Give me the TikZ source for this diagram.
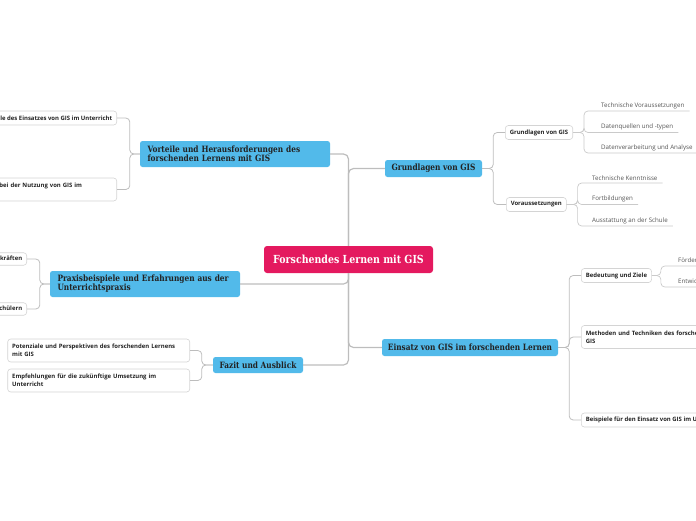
\documentclass[tikz,border=0pt]{standalone}
\usepackage{fontspec}
\setmainfont{Open Sans}
\newfontfamily\slab[FakeStretch=0.85]{DejaVu Serif}
\usetikzlibrary{positioning}
\definecolor{rootpink}{HTML}{E4195F}
\definecolor{topicblue}{HTML}{52BAEA}
\definecolor{wire}{HTML}{BDBDBD}
\definecolor{rim}{HTML}{D4D4D4}
\definecolor{ink}{HTML}{222222}
\definecolor{ink2}{HTML}{555555}

\begin{document}
\begin{tikzpicture}[x=1pt,y=-1pt,
  root/.style={fill=rootpink,text=white,rounded corners=3pt,font=\slab\bfseries\fontsize{11.1}{12}\selectfont,
    minimum width=169pt,minimum height=27pt,inner sep=0pt},
  topic/.style={fill=topicblue,text=ink,rounded corners=2.5pt,font=\slab\bfseries\fontsize{8.7}{9}\selectfont,inner sep=0pt},
  sub/.style={draw=rim,fill=white,rounded corners=3pt,line width=0.6pt,text=ink,
    font=\bfseries\fontsize{5.95}{8}\selectfont,inner xsep=4.5pt,inner ysep=0pt,minimum height=14pt},
  subwide/.style={sub,text width=173pt,align=left,minimum height=23pt,
    execute at begin node={\hyphenpenalty=10000\exhyphenpenalty=10000}},
  leaf/.style={text=ink2,font=\fontsize{6.2}{7}\selectfont,inner xsep=5pt,inner ysep=2pt,anchor=south west},
  trunk/.style={draw=wire,line width=1.2pt,rounded corners=5pt},
  twig/.style={draw=wire,line width=0.8pt,rounded corners=4pt},
  uline/.style={draw=wire!80,line width=0.7pt,rounded corners=4pt}]
\useasboundingbox (0,0) rectangle (696,520);
\clip (0,0) rectangle (696,520);
% centre and main topics
\node[root] (fl) at (348.5,259.5) {Forschendes Lernen mit GIS};
\node[topic,minimum width=190pt,minimum height=26pt,text width=175pt,align=left] (vh) at (235,154)
  {Vorteile und Herausforderungen des\\forschenden Lernens mit GIS};
\node[topic,minimum width=190pt,minimum height=26pt,text width=175pt,align=left] (px) at (145,284)
  {Praxisbeispiele und Erfahrungen aus der\\Unterrichtspraxis};
\node[topic,minimum width=90pt,minimum height=16pt] (fa) at (258,365) {Fazit und Ausblick};
\node[topic,minimum width=97pt,minimum height=17pt] (gl) at (433.5,168.5) {Grundlagen von GIS};
\node[topic,minimum width=176pt,minimum height=17pt] (ei) at (470,347.5) {Einsatz von GIS im forschenden Lernen};
\draw[trunk] (fl.north) |- (vh.east);
\draw[trunk] (fl.north) |- (gl.west);
\foreach \t in {px,fa} {\draw[trunk] (fl.south) |- (\t.east);}
\draw[trunk] (fl.south) |- (ei.west);
% Grundlagen von GIS
\node[sub,anchor=west] (gg) at (505,132.5) {Grundlagen von GIS};
\node[sub,anchor=west] (vs) at (506,204.5) {Voraussetzungen};
\foreach \n in {gg,vs} {\draw[twig] (gl.east) -- ++(11,0) |- (\n.west);}
\node[leaf] (tv) at (596,111) {Technische Voraussetzungen};
\node[leaf] (dt) at (596,132.5) {Datenquellen und -typen};
\node[leaf] (da) at (596,153) {Datenverarbeitung und Analyse};
\foreach \n in {tv,dt,da} {\draw[uline] (gg.east) -- ++(11,0) |- (\n.south east);}
\node[leaf] (tk) at (587,183) {Technische Kenntnisse};
\node[leaf] (fb) at (587,204.5) {Fortbildungen};
\node[leaf] (au) at (587,226) {Ausstattung an der Schule};
\foreach \n in {tk,fb,au} {\draw[uline] (vs.east) -- ++(11,0) |- (\n.south east);}
% Einsatz von GIS
\node[sub,anchor=west] (bz) at (581,275.5) {Bedeutung und Ziele};
\node[subwide,anchor=west] (mt) at (581,337) {Methoden und Techniken des forschenden Lernens mit GIS};
\node[sub,anchor=west] (bs) at (581,420) {Beispiele für den Einsatz von GIS im Unterricht};
\foreach \n in {bz,mt,bs} {\draw[twig] (ei.east) -- ++(11,0) |- (\n.west);}
\node[leaf] (fd) at (673,266) {Förderung des räumlichen Denkens};
\node[leaf] (ew) at (673,287) {Entwicklung von Forschungskompetenzen};
\foreach \n in {fd,ew} {\draw[uline] (bz.east) -- ++(9,0) |- (\n.south east);}
% Vorteile und Herausforderungen
\node[sub,anchor=east] (ve) at (117,118) {Vorteile des Einsatzes von GIS im Unterricht};
\node[subwide,anchor=east] (hn) at (117,189.5) {Herausforderungen bei der Nutzung von GIS im Unterricht};
\foreach \n in {ve,hn} {\draw[twig] (vh.west) -- ++(-10,0) |- (\n.east);}
% Praxisbeispiele
\node[sub,anchor=east,minimum height=12.5pt] (el) at (27,259) {Erfahrungsberichte von Lehrkräften};
\node[sub,anchor=east,minimum height=12.5pt] (ps) at (27,309) {Projekte mit Schülerinnen und Schülern};
\foreach \n in {el,ps} {\draw[twig] (px.west) -- ++(-10,0) |- (\n.east);}
% Fazit
\node[subwide,anchor=east] (pp) at (190,350.5) {Potenziale und Perspektiven des forschenden Lernens mit GIS};
\node[subwide,anchor=east] (eu) at (190,380.5) {Empfehlungen für die zukünftige Umsetzung im Unterricht};
\foreach \n in {pp,eu} {\draw[twig] (fa.west) -- ++(-11,0) |- (\n.east);}
\end{tikzpicture}
\end{document}
